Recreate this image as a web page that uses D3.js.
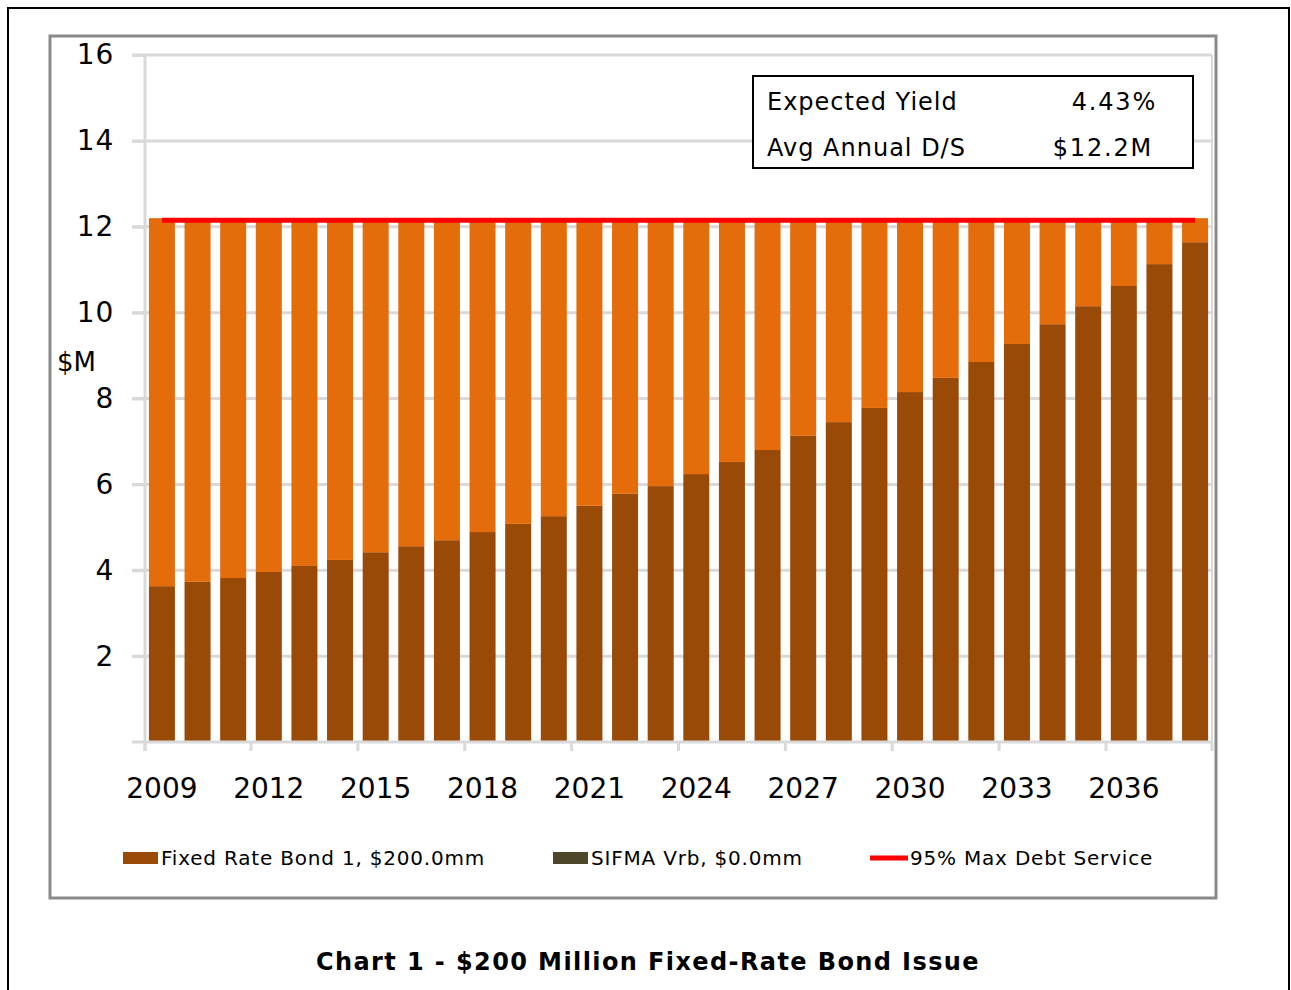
<!DOCTYPE html>
<html>
<head>
<meta charset="utf-8">
<script src="https://cdn.jsdelivr.net/npm/d3@7"></script>
<style>
  html, body { margin: 0; padding: 0; background: #fff; }
  svg { display: block; font-family: "DejaVu Sans", Verdana, sans-serif; }
</style>
</head>
<body>
<svg id="chart" width="1291" height="990"></svg>
<script>
const years = d3.range(2009, 2039).map(String);
const principal = [3.63, 3.73, 3.82, 3.96, 4.10, 4.24, 4.42, 4.56, 4.70, 4.89,
                   5.08, 5.26, 5.50, 5.78, 5.96, 6.24, 6.52, 6.80, 7.13, 7.45,
                   7.78, 8.15, 8.48, 8.85, 9.27, 9.73, 10.15, 10.62, 11.13, 11.64];
const interest  = [8.57, 8.47, 8.38, 8.24, 8.10, 7.96, 7.78, 7.64, 7.50, 7.31,
                   7.12, 6.94, 6.70, 6.42, 6.24, 5.96, 5.68, 5.40, 5.07, 4.75,
                   4.42, 4.05, 3.72, 3.35, 2.93, 2.47, 2.05, 1.58, 1.07, 0.56];
const maxDebtService = 12.15;
const yTicks = [2, 4, 6, 8, 10, 12, 14, 16];
const xTickLabels = ["2009", "2012", "2015", "2018", "2021", "2024", "2027", "2030", "2033", "2036"];
const legendItems = [
  { label: "Fixed Rate Bond 1, $200.0mm", color: "#9a4a07", type: "rect" },
  { label: "SIFMA Vrb, $0.0mm", color: "#4d4628", type: "rect" },
  { label: "95% Max Debt Service", color: "#ff0000", type: "line" }
];
const infoRows = [["Expected Yield", "4.43%"], ["Avg Annual D/S", "$12.2M"]];
const titleText = "Chart 1 - $200 Million Fixed-Rate Bond Issue";

const svg = d3.select("#chart");

// outer frame
svg.append("rect").attr("x", 8).attr("y", 8).attr("width", 1281).attr("height", 1000)
  .attr("fill", "none").attr("stroke", "#000").attr("stroke-width", 2);
// chart frame
svg.append("rect").attr("x", 50).attr("y", 36).attr("width", 1166).attr("height", 862)
  .attr("fill", "#fff").attr("stroke", "#8a8a8a").attr("stroke-width", 3);

const pLeft = 145, pRight = 1212, pTop = 55, pBottom = 742;
const x = d3.scaleBand().domain(years).range([pLeft, pRight]).paddingInner(0.27).paddingOuter(0.11);
const y = d3.scaleLinear().domain([0, 16]).range([pBottom, pTop]);
const grid = "#d9d9d9";

// gridlines
svg.append("g").selectAll("line").data(yTicks).join("line")
  .attr("x1", 132).attr("x2", pRight).attr("y1", d => y(d)).attr("y2", d => y(d))
  .attr("stroke", grid).attr("stroke-width", 3);
// right border of plot
svg.append("line").attr("x1", pRight).attr("x2", pRight).attr("y1", pTop).attr("y2", pBottom + 9)
  .attr("stroke", grid).attr("stroke-width", 2);

// y axis
const yAxis = svg.append("g").attr("transform", `translate(${pLeft},0)`)
  .call(d3.axisLeft(y).tickValues(yTicks).tickSize(13).tickPadding(18));
yAxis.select(".domain").remove();
yAxis.selectAll(".tick line").attr("stroke", grid).attr("stroke-width", 3);
yAxis.selectAll(".tick text").attr("font-size", 28).attr("fill", "#000")
  .attr("letter-spacing", 0.8).attr("font-family", "DejaVu Sans, sans-serif");
svg.append("line").attr("x1", pLeft).attr("x2", pLeft).attr("y1", pTop).attr("y2", pBottom + 9)
  .attr("stroke", grid).attr("stroke-width", 3);

// bars
const halfGap = x.step() * x.paddingInner() / 2;
const bars = svg.append("g");
bars.selectAll("rect.p").data(years).join("rect").attr("class", "p")
  .attr("x", d => x(d)).attr("width", x.bandwidth())
  .attr("y", (d, i) => y(principal[i])).attr("height", (d, i) => y(0) - y(principal[i]))
  .attr("fill", "#9a4a07");
bars.selectAll("rect.i").data(years).join("rect").attr("class", "i")
  .attr("x", d => x(d)).attr("width", x.bandwidth())
  .attr("y", (d, i) => y(principal[i] + interest[i]))
  .attr("height", (d, i) => y(principal[i]) - y(principal[i] + interest[i]))
  .attr("fill", "#e46c0a");

// x axis line
svg.append("line").attr("x1", 132).attr("x2", pRight).attr("y1", pBottom).attr("y2", pBottom)
  .attr("stroke", grid).attr("stroke-width", 3);
// x ticks at band edges every 3 years
const tickYears = years.filter((d, i) => i % 3 === 0);
svg.append("g").selectAll("line").data(tickYears).join("line")
  .attr("x1", d => Math.max(pLeft, x(d) - halfGap)).attr("x2", d => Math.max(pLeft, x(d) - halfGap))
  .attr("y1", pBottom).attr("y2", pBottom + 9).attr("stroke", grid).attr("stroke-width", 3);
svg.append("line").attr("x1", pRight).attr("x2", pRight).attr("y1", pBottom).attr("y2", pBottom + 9)
  .attr("stroke", grid).attr("stroke-width", 3);
svg.append("g").selectAll("text").data(xTickLabels).join("text")
  .attr("x", d => x(d) + x.bandwidth() / 2).attr("y", 798)
  .attr("text-anchor", "middle").attr("font-size", 28).attr("fill", "#000").text(d => d);

// red line
svg.append("line")
  .attr("x1", x(years[0]) + x.bandwidth() / 2).attr("x2", x(years[years.length - 1]) + x.bandwidth() / 2)
  .attr("y1", y(maxDebtService)).attr("y2", y(maxDebtService))
  .attr("stroke", "#ff0000").attr("stroke-width", 5);

// $M label
svg.append("text").attr("x", 57).attr("y", 371).attr("font-size", 26).attr("fill", "#000").text("$M");

// info box
svg.append("rect").attr("x", 753).attr("y", 76).attr("width", 440).attr("height", 92)
  .attr("fill", "#fff").attr("stroke", "#000").attr("stroke-width", 2);
infoRows.forEach((r, i) => {
  svg.append("text").attr("x", 767).attr("y", 110 + i * 46).attr("font-size", 24)
    .attr("letter-spacing", 1).attr("fill", "#000").text(r[0]);
  svg.append("text").attr("x", 1157 - i * 4).attr("y", 110 + i * 46).attr("font-size", 24)
    .attr("letter-spacing", 1.8).attr("text-anchor", "end").attr("fill", "#000").text(r[1]);
});

// legend
const legendX = [123, 553, 870];
legendItems.forEach((it, i) => {
  const g = svg.append("g").attr("transform", `translate(${legendX[i]},858)`);
  if (it.type === "rect") {
    g.append("rect").attr("x", 0).attr("y", -6).attr("width", 35).attr("height", 12).attr("fill", it.color);
  } else {
    g.append("line").attr("x1", 0).attr("x2", 38).attr("y1", 0).attr("y2", 0)
      .attr("stroke", it.color).attr("stroke-width", 5);
  }
  g.append("text").attr("x", it.type === "rect" ? 38 : 40).attr("y", 7).attr("font-size", 20)
    .attr("letter-spacing", 0.8).attr("fill", "#000").text(it.label);
});

// title
svg.append("text").attr("x", 648).attr("y", 970).attr("text-anchor", "middle")
  .attr("font-size", 24).attr("font-weight", "bold").attr("letter-spacing", 1.4)
  .attr("fill", "#000").text(titleText);
</script>
</body>
</html>
